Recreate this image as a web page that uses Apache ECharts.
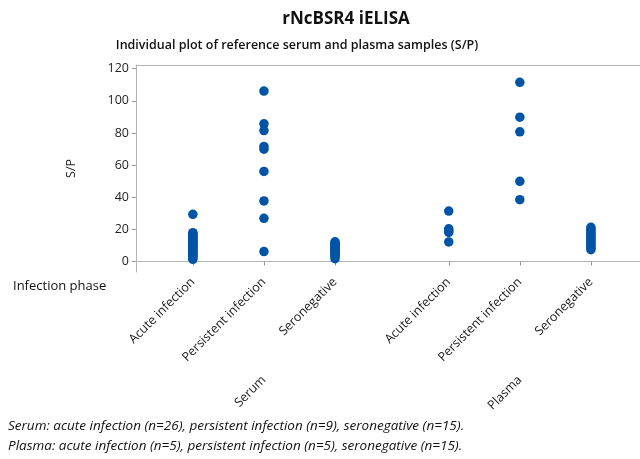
<!DOCTYPE html>
<html>
<head>
<meta charset="utf-8">
<script src="https://cdn.jsdelivr.net/npm/echarts@6/dist/echarts.min.js"></script>
<style>
  html, body { margin: 0; padding: 0; background: #fff; overflow: hidden; }
  #chart { width: 640px; height: 459px; }
</style>
</head>
<body>
<div id="chart"></div>
<script>
// ---- Data ----
const categories = ['Acute infection', 'Persistent infection', 'Seronegative'];
const sampleTypes = ['Serum', 'Plasma'];
const yTicks = [0, 20, 40, 60, 80, 100, 120];

const serumAcute = [29.4, 18, 17.3, 16.6, 16, 15.3, 14.6, 14, 13.3, 12.6, 12, 11.3, 10.6, 10, 9.3, 8.6, 8, 7.3, 6.6, 6, 5.3, 4.6, 4, 3.3, 2.4, 1.4];
const serumPersistent = [106.1, 85.7, 81.5, 71.6, 69.9, 56.1, 37.7, 26.9, 6.2];
const serumSeronegative = [12.3, 11.6, 11, 10.3, 9.6, 9, 8.3, 7.6, 7, 6.3, 5.6, 5, 4.3, 3.3, 1.8];
const plasmaAcute = [31.4, 20.4, 19.2, 18.1, 12.2];
const plasmaPersistent = [111.5, 89.8, 80.7, 49.9, 38.5];
const plasmaSeronegative = [21.3, 20.3, 19.3, 18.3, 17.3, 16.3, 15.3, 14.3, 13.3, 12.3, 11.3, 10.3, 9.3, 8.3, 7.4];

const footnotes = [
  'Serum: acute infection (n=26), persistent infection (n=9), seronegative (n=15).',
  'Plasma: acute infection (n=5), persistent infection (n=5), seronegative (n=15).'
];

// ---- Layout: slot positions on the x value axis ----
const slotPos = [1, 2, 3, 4.6, 5.6, 6.6];
const groupPos = [2, 5.6];
const groups = [serumAcute, serumPersistent, serumSeronegative, plasmaAcute, plasmaPersistent, plasmaSeronegative];

const points = [];
groups.forEach((arr, i) => arr.forEach(v => points.push([slotPos[i], v])));

function slotLabel(v) {
  for (let i = 0; i < slotPos.length; i++) {
    if (Math.abs(v - slotPos[i]) < 0.01) return categories[i % 3];
  }
  return '';
}
function groupLabel(v) {
  for (let i = 0; i < groupPos.length; i++) {
    if (Math.abs(v - groupPos[i]) < 0.01) return sampleTypes[i];
  }
  return '';
}

const FONT = 'Open Sans';
const LINE = '#b4b4b4';
const chart = echarts.init(document.getElementById('chart'), null, { renderer: 'canvas' });
chart.setOption({
  animation: false,
  backgroundColor: '#fff',
  textStyle: { fontFamily: FONT },
  grid: {
    left: 136, top: 65, width: 510, bottom: 187,
    outerBoundsMode: 'none', containLabel: false,
    show: false
  },
  xAxis: [{
    type: 'value', min: 0.2, max: 7.375,
    axisLine: { show: true, lineStyle: { color: LINE } },
    axisTick: { show: true, customValues: slotPos, length: 4, lineStyle: { color: '#9a9a9a' } },
    axisLabel: {
      customValues: slotPos, rotate: 45, margin: 8,
      fontFamily: FONT, fontSize: 12.5, color: '#222',
      formatter: slotLabel
    },
    splitLine: { show: false }
  }, {
    type: 'value', min: 0.2, max: 7.375, position: 'bottom',
    axisLine: { show: false },
    axisTick: { show: false },
    axisLabel: {
      customValues: groupPos, rotate: 45, margin: 106,
      fontFamily: FONT, fontSize: 12.5, color: '#222',
      formatter: groupLabel
    },
    splitLine: { show: false }
  }, {
    type: 'value', min: 0.2, max: 7.375, position: 'top',
    axisLine: { show: true, lineStyle: { color: LINE } },
    axisTick: { show: false },
    axisLabel: { show: false },
    splitLine: { show: false }
  }],
  yAxis: {
    type: 'value', min: -6.5, max: 122.3,
    name: 'S/P', nameLocation: 'middle', nameGap: 58, nameRotate: 90,
    nameTextStyle: { fontFamily: FONT, fontSize: 12.5, color: '#222' },
    axisLine: { show: true, lineStyle: { color: LINE } },
    axisTick: { show: true, customValues: yTicks, length: 4, lineStyle: { color: '#9a9a9a' } },
    axisLabel: { customValues: yTicks, margin: 7, fontFamily: FONT, fontSize: 12.5, color: '#222' },
    splitLine: { show: false }
  },
  series: [{
    type: 'scatter',
    xAxisIndex: 0,
    data: points,
    symbol: 'circle',
    symbolSize: 9.5,
    itemStyle: { color: '#0054a6', opacity: 1 }
  }],
  graphic: [
    { type: 'text', x: 346, y: 19, style: { text: 'rNcBSR4 iELISA', font: 'bold 17px "Open Sans"', fill: '#111', align: 'center', verticalAlign: 'middle' } },
    { type: 'text', x: 297, y: 45, style: { text: 'Individual plot of reference serum and plasma samples (S/P)', font: '600 12.5px "Open Sans"', fill: '#111', align: 'center', verticalAlign: 'middle' } },
    { type: 'text', x: 13, y: 286, style: { text: 'Infection phase', font: '13px "Open Sans"', fill: '#111', align: 'left', verticalAlign: 'middle' } },
    { type: 'text', x: 8, y: 426, style: { text: footnotes[0], font: 'italic 13.5px "Open Sans"', fill: '#111', align: 'left', verticalAlign: 'middle' } },
    { type: 'text', x: 8, y: 446, style: { text: footnotes[1], font: 'italic 13.5px "Open Sans"', fill: '#111', align: 'left', verticalAlign: 'middle' } }
  ]
});
</script>
</body>
</html>
